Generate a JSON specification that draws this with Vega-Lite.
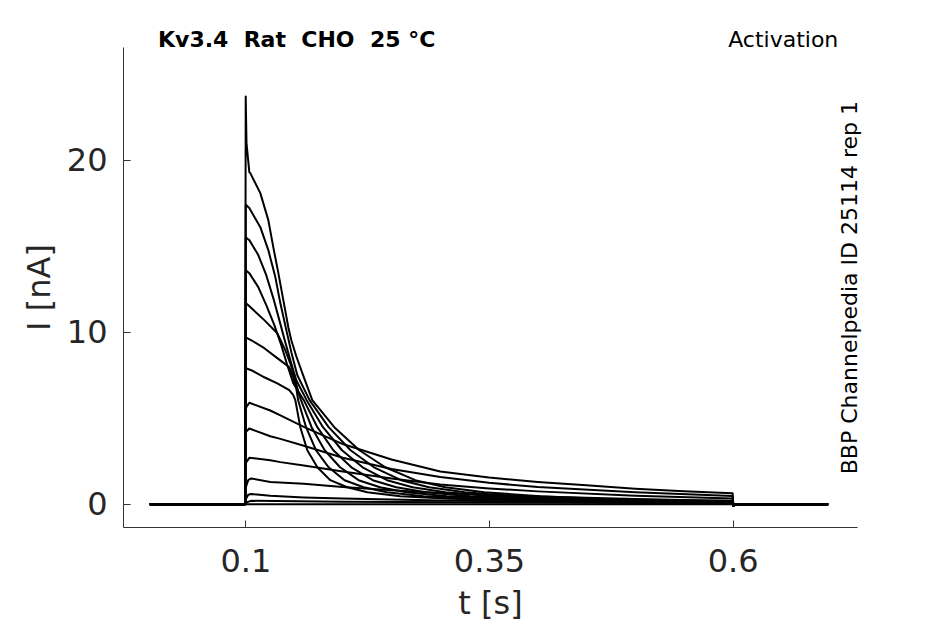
{
  "$schema": "https://vega.github.io/schema/vega-lite/v6.json",
  "description": "Kv3.4 activation current traces, BBP Channelpedia ID 25114 rep 1",
  "width": 734,
  "height": 480,
  "autosize": "none",
  "padding": {"left": 123, "top": 47, "right": 88, "bottom": 97},
  "background": "white",
  "title": {
    "text": "Kv3.4\u00a0\u00a0Rat\u00a0\u00a0CHO\u00a0\u00a025\u00a0°C",
    "anchor": "start",
    "frame": "group",
    "dx": 35,
    "offset": -23,
    "font": "DejaVu Sans",
    "fontSize": 22,
    "fontWeight": "bold",
    "color": "black"
  },
  "data": {
    "values": [
      {"k": "A", "t": 0.002, "i": 0}, {"k": "A", "t": 0.0998, "i": 0}, {"k": "A", "t": 0.1004, "i": 23.7}, {"k": "A", "t": 0.1012, "i": 21.0},
      {"k": "A", "t": 0.1041, "i": 19.3}, {"k": "A", "t": 0.1051, "i": 19.24}, {"k": "A", "t": 0.1154, "i": 18.08}, {"k": "A", "t": 0.1236, "i": 16.51},
      {"k": "A", "t": 0.1287, "i": 14.94}, {"k": "A", "t": 0.1339, "i": 13.43}, {"k": "A", "t": 0.139, "i": 11.86}, {"k": "A", "t": 0.1441, "i": 10.29},
      {"k": "A", "t": 0.1472, "i": 9.53}, {"k": "A", "t": 0.1523, "i": 8.6}, {"k": "A", "t": 0.1585, "i": 7.62}, {"k": "A", "t": 0.1687, "i": 6.05},
      {"k": "A", "t": 0.1913, "i": 4.48}, {"k": "A", "t": 0.217, "i": 3.14}, {"k": "A", "t": 0.2436, "i": 2.15}, {"k": "A", "t": 0.2744, "i": 1.4},
      {"k": "A", "t": 0.3052, "i": 0.99}, {"k": "A", "t": 0.3452, "i": 0.7}, {"k": "A", "t": 0.4027, "i": 0.47}, {"k": "A", "t": 0.4642, "i": 0.32},
      {"k": "A", "t": 0.5668, "i": 0.2}, {"k": "A", "t": 0.6, "i": 0.2}, {"k": "A", "t": 0.6008, "i": -0.1}, {"k": "A", "t": 0.6025, "i": 0}, {"k": "A", "t": 0.698, "i": 0},

      {"k": "B", "t": 0.002, "i": 0}, {"k": "B", "t": 0.0998, "i": 0}, {"k": "B", "t": 0.1005, "i": 17.4}, {"k": "B", "t": 0.1041, "i": 17.21},
      {"k": "B", "t": 0.1154, "i": 16.1}, {"k": "B", "t": 0.1236, "i": 14.77}, {"k": "B", "t": 0.1308, "i": 13.2}, {"k": "B", "t": 0.1359, "i": 11.69},
      {"k": "B", "t": 0.1421, "i": 10.12}, {"k": "B", "t": 0.1472, "i": 8.84}, {"k": "B", "t": 0.1534, "i": 7.5}, {"k": "B", "t": 0.1659, "i": 6.05},
      {"k": "B", "t": 0.1855, "i": 4.48}, {"k": "B", "t": 0.208, "i": 3.14}, {"k": "B", "t": 0.232, "i": 2.15}, {"k": "B", "t": 0.2598, "i": 1.4},
      {"k": "B", "t": 0.2885, "i": 0.99}, {"k": "B", "t": 0.3252, "i": 0.7}, {"k": "B", "t": 0.3788, "i": 0.47}, {"k": "B", "t": 0.4386, "i": 0.32},
      {"k": "B", "t": 0.5412, "i": 0.2}, {"k": "B", "t": 0.6, "i": 0.19}, {"k": "B", "t": 0.6008, "i": -0.1}, {"k": "B", "t": 0.6025, "i": 0}, {"k": "B", "t": 0.698, "i": 0},

      {"k": "C", "t": 0.002, "i": 0}, {"k": "C", "t": 0.0998, "i": 0}, {"k": "C", "t": 0.1005, "i": 15.5}, {"k": "C", "t": 0.1041, "i": 15.35},
      {"k": "C", "t": 0.1133, "i": 14.48}, {"k": "C", "t": 0.1215, "i": 13.31}, {"k": "C", "t": 0.1287, "i": 11.98}, {"k": "C", "t": 0.1349, "i": 10.7},
      {"k": "C", "t": 0.141, "i": 9.42}, {"k": "C", "t": 0.1462, "i": 8.37}, {"k": "C", "t": 0.1523, "i": 7.21}, {"k": "C", "t": 0.1629, "i": 6.05},
      {"k": "C", "t": 0.1797, "i": 4.48}, {"k": "C", "t": 0.1992, "i": 3.14}, {"k": "C", "t": 0.2203, "i": 2.15}, {"k": "C", "t": 0.2454, "i": 1.4},
      {"k": "C", "t": 0.2716, "i": 0.99}, {"k": "C", "t": 0.3052, "i": 0.7}, {"k": "C", "t": 0.3547, "i": 0.47}, {"k": "C", "t": 0.4129, "i": 0.32},
      {"k": "C", "t": 0.5155, "i": 0.2}, {"k": "C", "t": 0.6, "i": 0.185}, {"k": "C", "t": 0.6008, "i": -0.1}, {"k": "C", "t": 0.6025, "i": 0}, {"k": "C", "t": 0.698, "i": 0},

      {"k": "D", "t": 0.002, "i": 0}, {"k": "D", "t": 0.0998, "i": 0}, {"k": "D", "t": 0.1005, "i": 13.6}, {"k": "D", "t": 0.1041, "i": 13.43},
      {"k": "D", "t": 0.1133, "i": 12.62}, {"k": "D", "t": 0.1215, "i": 11.57}, {"k": "D", "t": 0.1298, "i": 10.41}, {"k": "D", "t": 0.1369, "i": 9.24},
      {"k": "D", "t": 0.1431, "i": 8.08}, {"k": "D", "t": 0.1492, "i": 7.03}, {"k": "D", "t": 0.16, "i": 6.05}, {"k": "D", "t": 0.1739, "i": 4.48},
      {"k": "D", "t": 0.1903, "i": 3.14}, {"k": "D", "t": 0.2088, "i": 2.15}, {"k": "D", "t": 0.2308, "i": 1.4}, {"k": "D", "t": 0.2549, "i": 0.99},
      {"k": "D", "t": 0.2852, "i": 0.7}, {"k": "D", "t": 0.3308, "i": 0.47}, {"k": "D", "t": 0.3873, "i": 0.32}, {"k": "D", "t": 0.4899, "i": 0.2},
      {"k": "D", "t": 0.6, "i": 0.18}, {"k": "D", "t": 0.6008, "i": -0.1}, {"k": "D", "t": 0.6025, "i": 0}, {"k": "D", "t": 0.698, "i": 0},

      {"k": "E", "t": 0.002, "i": 0}, {"k": "E", "t": 0.0998, "i": 0}, {"k": "E", "t": 0.1005, "i": 11.7}, {"k": "E", "t": 0.1062, "i": 11.4},
      {"k": "E", "t": 0.1195, "i": 10.7}, {"k": "E", "t": 0.1328, "i": 9.94}, {"k": "E", "t": 0.141, "i": 8.95}, {"k": "E", "t": 0.1472, "i": 8.02},
      {"k": "E", "t": 0.1513, "i": 7.21}, {"k": "E", "t": 0.1544, "i": 6.51}, {"k": "E", "t": 0.1571, "i": 6.05}, {"k": "E", "t": 0.168, "i": 4.48},
      {"k": "E", "t": 0.1814, "i": 3.14}, {"k": "E", "t": 0.1972, "i": 2.15}, {"k": "E", "t": 0.2162, "i": 1.4}, {"k": "E", "t": 0.2382, "i": 0.99},
      {"k": "E", "t": 0.2652, "i": 0.7}, {"k": "E", "t": 0.3069, "i": 0.47}, {"k": "E", "t": 0.3616, "i": 0.32}, {"k": "E", "t": 0.4642, "i": 0.2},
      {"k": "E", "t": 0.6, "i": 0.17}, {"k": "E", "t": 0.6008, "i": -0.1}, {"k": "E", "t": 0.6025, "i": 0}, {"k": "E", "t": 0.698, "i": 0},

      {"k": "F", "t": 0.002, "i": 0}, {"k": "F", "t": 0.0998, "i": 0}, {"k": "F", "t": 0.1005, "i": 9.7}, {"k": "F", "t": 0.1062, "i": 9.53},
      {"k": "F", "t": 0.1195, "i": 9.07}, {"k": "F", "t": 0.1328, "i": 8.49}, {"k": "F", "t": 0.1451, "i": 7.97}, {"k": "F", "t": 0.1492, "i": 7.38},
      {"k": "F", "t": 0.1523, "i": 6.74}, {"k": "F", "t": 0.1542, "i": 6.05}, {"k": "F", "t": 0.1623, "i": 4.48}, {"k": "F", "t": 0.1725, "i": 3.14},
      {"k": "F", "t": 0.1855, "i": 2.15}, {"k": "F", "t": 0.2018, "i": 1.4}, {"k": "F", "t": 0.2214, "i": 0.99}, {"k": "F", "t": 0.2452, "i": 0.7},
      {"k": "F", "t": 0.2829, "i": 0.47}, {"k": "F", "t": 0.336, "i": 0.32}, {"k": "F", "t": 0.4386, "i": 0.2}, {"k": "F", "t": 0.6, "i": 0.165},
      {"k": "F", "t": 0.6008, "i": -0.1}, {"k": "F", "t": 0.6025, "i": 0}, {"k": "F", "t": 0.698, "i": 0},

      {"k": "G", "t": 0.002, "i": 0}, {"k": "G", "t": 0.0998, "i": 0}, {"k": "G", "t": 0.1005, "i": 7.9}, {"k": "G", "t": 0.1062, "i": 7.79},
      {"k": "G", "t": 0.1195, "i": 7.38}, {"k": "G", "t": 0.1328, "i": 7.03}, {"k": "G", "t": 0.1451, "i": 6.63}, {"k": "G", "t": 0.1492, "i": 6.34},
      {"k": "G", "t": 0.1513, "i": 6.05}, {"k": "G", "t": 0.1564, "i": 4.48}, {"k": "G", "t": 0.1636, "i": 3.14}, {"k": "G", "t": 0.1739, "i": 2.15},
      {"k": "G", "t": 0.1872, "i": 1.4}, {"k": "G", "t": 0.2046, "i": 0.99}, {"k": "G", "t": 0.2252, "i": 0.7}, {"k": "G", "t": 0.259, "i": 0.47},
      {"k": "G", "t": 0.3103, "i": 0.32}, {"k": "G", "t": 0.4129, "i": 0.2}, {"k": "G", "t": 0.6, "i": 0.16},
      {"k": "G", "t": 0.6008, "i": -0.1}, {"k": "G", "t": 0.6025, "i": 0}, {"k": "G", "t": 0.698, "i": 0},

      {"k": "H", "t": 0.002, "i": 0}, {"k": "H", "t": 0.0998, "i": 0}, {"k": "H", "t": 0.1005, "i": 5.6}, {"k": "H", "t": 0.1041, "i": 5.9},
      {"k": "H", "t": 0.1256, "i": 5.45}, {"k": "H", "t": 0.136, "i": 5.17}, {"k": "H", "t": 0.16, "i": 4.5}, {"k": "H", "t": 0.2, "i": 3.5},
      {"k": "H", "t": 0.25, "i": 2.6}, {"k": "H", "t": 0.3, "i": 1.9}, {"k": "H", "t": 0.35, "i": 1.55}, {"k": "H", "t": 0.4, "i": 1.3},
      {"k": "H", "t": 0.45, "i": 1.1}, {"k": "H", "t": 0.5, "i": 0.9}, {"k": "H", "t": 0.55, "i": 0.76}, {"k": "H", "t": 0.6, "i": 0.64},
      {"k": "H", "t": 0.6008, "i": -0.1}, {"k": "H", "t": 0.6025, "i": 0}, {"k": "H", "t": 0.698, "i": 0},

      {"k": "I", "t": 0.002, "i": 0}, {"k": "I", "t": 0.0998, "i": 0}, {"k": "I", "t": 0.1005, "i": 4.2}, {"k": "I", "t": 0.1041, "i": 4.4},
      {"k": "I", "t": 0.1256, "i": 3.95}, {"k": "I", "t": 0.136, "i": 3.8}, {"k": "I", "t": 0.16, "i": 3.4}, {"k": "I", "t": 0.2, "i": 2.7},
      {"k": "I", "t": 0.25, "i": 2.05}, {"k": "I", "t": 0.3, "i": 1.58}, {"k": "I", "t": 0.35, "i": 1.25}, {"k": "I", "t": 0.4, "i": 1.0},
      {"k": "I", "t": 0.5, "i": 0.7}, {"k": "I", "t": 0.6, "i": 0.48},
      {"k": "I", "t": 0.6008, "i": -0.1}, {"k": "I", "t": 0.6025, "i": 0}, {"k": "I", "t": 0.698, "i": 0},

      {"k": "J", "t": 0.002, "i": 0}, {"k": "J", "t": 0.0998, "i": 0}, {"k": "J", "t": 0.1005, "i": 2.4}, {"k": "J", "t": 0.1041, "i": 2.7},
      {"k": "J", "t": 0.1256, "i": 2.56}, {"k": "J", "t": 0.136, "i": 2.45}, {"k": "J", "t": 0.16, "i": 2.25}, {"k": "J", "t": 0.2, "i": 1.9},
      {"k": "J", "t": 0.25, "i": 1.5}, {"k": "J", "t": 0.3, "i": 1.15}, {"k": "J", "t": 0.35, "i": 0.92}, {"k": "J", "t": 0.4, "i": 0.75},
      {"k": "J", "t": 0.5, "i": 0.5}, {"k": "J", "t": 0.6, "i": 0.33},
      {"k": "J", "t": 0.6008, "i": -0.1}, {"k": "J", "t": 0.6025, "i": 0}, {"k": "J", "t": 0.698, "i": 0},

      {"k": "K", "t": 0.002, "i": 0}, {"k": "K", "t": 0.0998, "i": 0}, {"k": "K", "t": 0.1005, "i": 1.0}, {"k": "K", "t": 0.103, "i": 1.4},
      {"k": "K", "t": 0.106, "i": 1.5}, {"k": "K", "t": 0.1256, "i": 1.3}, {"k": "K", "t": 0.16, "i": 1.2}, {"k": "K", "t": 0.2, "i": 1.0},
      {"k": "K", "t": 0.25, "i": 0.82}, {"k": "K", "t": 0.3, "i": 0.66}, {"k": "K", "t": 0.4, "i": 0.45}, {"k": "K", "t": 0.5, "i": 0.3},
      {"k": "K", "t": 0.6, "i": 0.19}, {"k": "K", "t": 0.6008, "i": -0.1}, {"k": "K", "t": 0.6025, "i": 0}, {"k": "K", "t": 0.698, "i": 0},

      {"k": "L", "t": 0.002, "i": 0}, {"k": "L", "t": 0.0998, "i": 0}, {"k": "L", "t": 0.1005, "i": 0.3}, {"k": "L", "t": 0.103, "i": 0.55},
      {"k": "L", "t": 0.106, "i": 0.6}, {"k": "L", "t": 0.1256, "i": 0.5}, {"k": "L", "t": 0.16, "i": 0.4}, {"k": "L", "t": 0.2, "i": 0.33},
      {"k": "L", "t": 0.3, "i": 0.22}, {"k": "L", "t": 0.4, "i": 0.15}, {"k": "L", "t": 0.6, "i": 0.08},
      {"k": "L", "t": 0.6008, "i": -0.1}, {"k": "L", "t": 0.6025, "i": 0}, {"k": "L", "t": 0.698, "i": 0},

      {"k": "M", "t": 0.002, "i": 0}, {"k": "M", "t": 0.0998, "i": 0}, {"k": "M", "t": 0.1005, "i": 0.1}, {"k": "M", "t": 0.106, "i": 0.2},
      {"k": "M", "t": 0.2, "i": 0.15}, {"k": "M", "t": 0.4, "i": 0.1}, {"k": "M", "t": 0.6, "i": 0.05},
      {"k": "M", "t": 0.6008, "i": -0.08}, {"k": "M", "t": 0.6025, "i": 0}, {"k": "M", "t": 0.698, "i": 0},

      {"k": "N", "t": 0.002, "i": 0}, {"k": "N", "t": 0.0998, "i": 0}, {"k": "N", "t": 0.6, "i": 0}, {"k": "N", "t": 0.698, "i": 0}
    ]
  },
  "layer": [
    {
      "mark": {"type": "line", "color": "black", "strokeWidth": 2, "strokeJoin": "round"},
      "encoding": {
        "x": {
          "field": "t",
          "type": "quantitative",
          "scale": {"domain": [-0.0255, 0.7276], "nice": false, "zero": false},
          "axis": {
            "values": [0.1, 0.35, 0.6],
            "format": "~g",
            "title": "t [s]",
            "titleX": 367,
            "titleY": 86,
            "titleBaseline": "alphabetic",
            "labelPadding": 26
          }
        },
        "y": {
          "field": "i",
          "type": "quantitative",
          "scale": {"domain": [-1.32, 26.57], "nice": false, "zero": false},
          "axis": {
            "values": [0, 10, 20],
            "title": "I [nA]",
            "titleX": -74,
            "titleY": 240,
            "titleBaseline": "alphabetic",
            "labelPadding": 23
          }
        },
        "detail": {"field": "k"}
      }
    },
    {
      "data": {"values": [{"label": "Activation"}]},
      "mark": {"type": "text", "align": "right", "baseline": "alphabetic", "font": "DejaVu Sans", "fontSize": 22, "color": "black"},
      "encoding": {
        "x": {"datum": 0.7084, "type": "quantitative"},
        "y": {"datum": 26.59, "type": "quantitative"},
        "text": {"field": "label"}
      }
    },
    {
      "data": {"values": [{"label": "BBP Channelpedia ID 25114 rep 1"}]},
      "mark": {"type": "text", "align": "center", "baseline": "alphabetic", "angle": 270, "font": "DejaVu Sans", "fontSize": 22, "color": "black"},
      "encoding": {
        "x": {"datum": 0.7276, "type": "quantitative"},
        "y": {"datum": 12.59, "type": "quantitative"},
        "text": {"field": "label"}
      }
    }
  ],
  "config": {
    "font": "DejaVu Sans",
    "view": {"stroke": null},
    "axis": {
      "grid": false,
      "domainColor": "#333333",
      "domainWidth": 1,
      "tickColor": "#333333",
      "tickWidth": 1,
      "tickSize": -7,
      "labelFont": "DejaVu Sans",
      "labelFontSize": 32,
      "labelColor": "#262626",
      "titleFont": "DejaVu Sans",
      "titleFontSize": 32,
      "titleFontWeight": "normal",
      "titleColor": "#262626"
    }
  }
}
